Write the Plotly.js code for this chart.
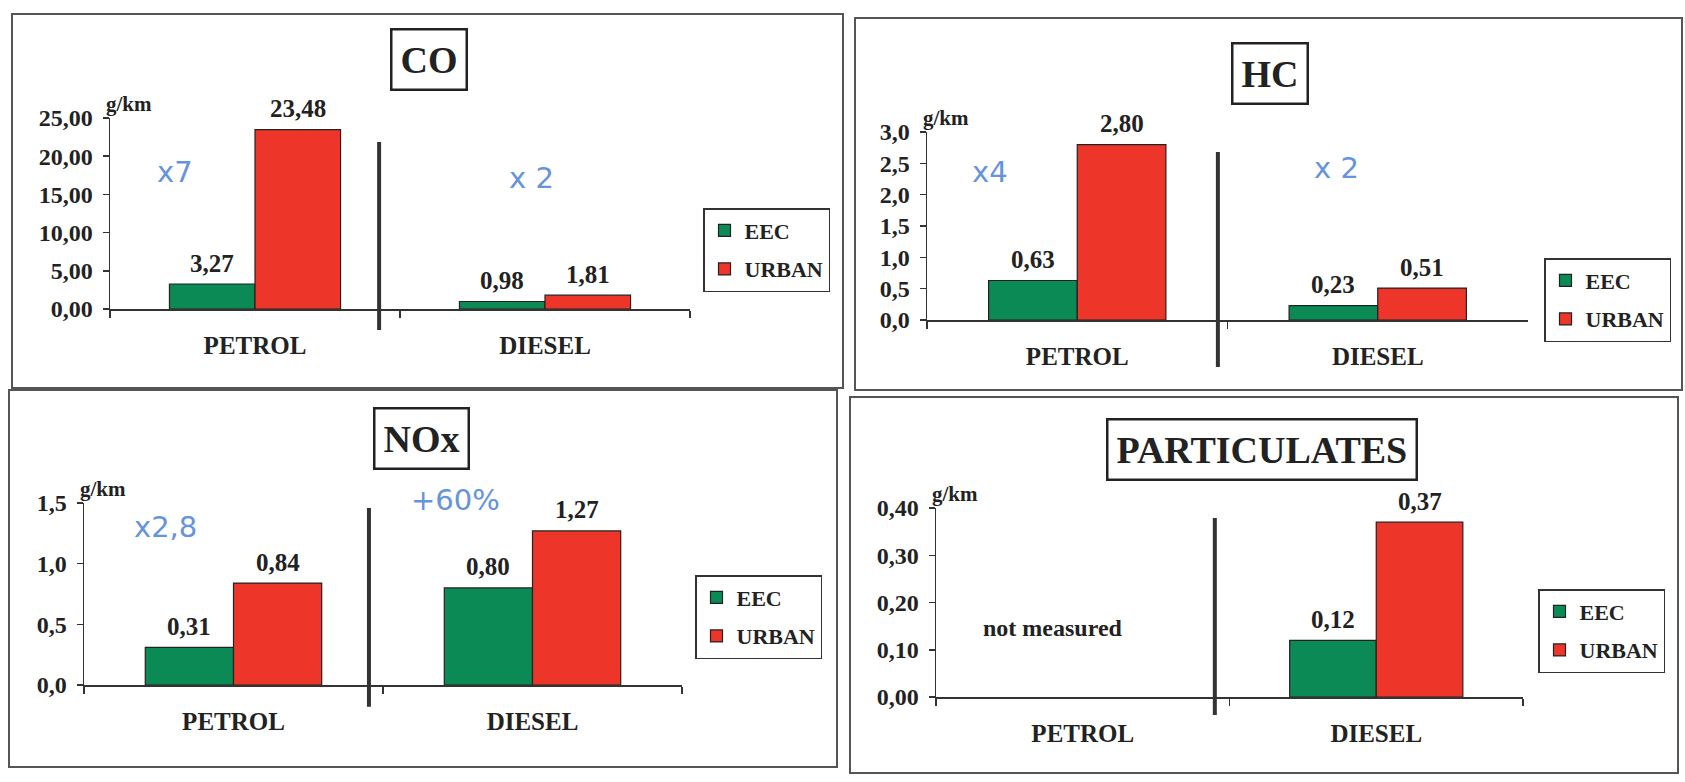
<!DOCTYPE html>
<html>
<head>
<meta charset="utf-8">
<script src="https://cdn.plot.ly/plotly-3.0.1.min.js"></script>
<style>html,body{margin:0;padding:0;background:#fff;}#chart{width:1685px;height:782px;}</style>
</head>
<body>
<div id="chart"></div>
<script>
// ---- data ----
const categories = ['PETROL', 'DIESEL'];
const seriesNames = ['EEC', 'URBAN'];
const titles = ['CO', 'HC', 'NOx', 'PARTICULATES'];
const coEEC = [3.27, 0.98];
const coURBAN = [23.48, 1.81];
const hcEEC = [0.63, 0.23];
const hcURBAN = [2.80, 0.51];
const noxEEC = [0.31, 0.80];
const noxURBAN = [0.84, 1.27];
const pmEEC = [null, 0.12];
const pmURBAN = [null, 0.37];
const unitLabel = 'g/km';
const notMeasured = 'not measured';
const handNotes = [['x7', 'x 2'], ['x4', 'x 2'], ['x2,8', '+60%'], []];

// ---- layout config (pixel positions of the page) ----
const W = 1685, H = 782;
const px = x => x / W, py = y => 1 - y / H;
const SERIF = 'Liberation Serif, Times New Roman, serif';
const GREEN = '#0c8a55', RED = '#ee3529';

const panels = [
  {eec: coEEC, urban: coURBAN, ax: [110, 690], ay: [309, 118], range: [0, 25], dtick: 5, fmt: '.2f',
   frame: [12, 14, 843, 388], title: [429, 60], legend: [703, 208], div: [0.428, -0.11, 0.874],
   notes: [[175, 172], [531, 178]]},
  {eec: hcEEC, urban: hcURBAN, ax: [927, 1528], ay: [320, 132], range: [0, 3], dtick: 0.5, fmt: '.1f',
   frame: [855, 18, 1682, 390], title: [1270, 73], legend: [1544, 258], div: [0.468, -0.25, 0.894],
   notes: [[990, 172], [1336, 168]]},
  {eec: noxEEC, urban: noxURBAN, ax: [84, 682], ay: [685, 503], range: [0, 1.5], dtick: 0.5, fmt: '.1f',
   frame: [9, 390, 837, 767], title: [421, 438], legend: [695, 575], div: [0.453, -0.12, 0.973],
   notes: [[165, 527], [455, 500]]},
  {eec: pmEEC, urban: pmURBAN, ax: [936, 1523], ay: [697, 508], range: [0, 0.4], dtick: 0.1, fmt: '.2f',
   frame: [850, 397, 1678, 773], title: [1262, 449], legend: [1538, 589], div: [0.45, -0.095, 0.947],
   notes: []}
];

const traces = [];
const annotations = [];
const shapes = [];
const layout = {
  width: W, height: H,
  margin: {l: 0, r: 0, t: 0, b: 0},
  paper_bgcolor: '#fff', plot_bgcolor: 'rgba(0,0,0,0)',
  separators: ',.',
  barmode: 'group', bargap: 0.41, bargroupgap: 0,
  font: {family: SERIF, color: '#222'},
  showlegend: true
};

const BAR_W = (1 - 0.41) / 2;

panels.forEach((p, k) => {
  const n = k === 0 ? '' : String(k + 1);
  const xa = 'x' + n, ya = 'y' + n;
  const legName = 'legend' + n;
  const vals = [p.eec, p.urban];
  const cols = [GREEN, RED];
  vals.forEach((v, s) => {
    traces.push({
      type: 'bar', x: categories, y: v, name: seriesNames[s],
      xaxis: xa, yaxis: ya, legend: legName, legendgroup: 'g' + k + s,
      marker: {color: cols[s], line: {color: '#222', width: 1.2}},
      hoverinfo: 'skip', cliponaxis: false
    });
    v.forEach((val, i) => {
      if (val === null) return;
      annotations.push({
        xref: xa, yref: ya, x: i + (s === 0 ? -1 : 1) * BAR_W / 2, y: val,
        text: val.toFixed(2).replace('.', ','), showarrow: false,
        yanchor: 'middle', yshift: 21,
        font: {family: SERIF, size: 25, weight: 'bold', color: '#222'}
      });
    });
  });
  layout['xaxis' + n] = {
    domain: [px(p.ax[0]), px(p.ax[1])], anchor: ya,
    type: 'category', range: [-0.5, 1.5], fixedrange: true,
    showline: true, linecolor: '#333', linewidth: 1.5,
    ticks: 'outside', tickson: 'boundaries', ticklen: 7, tickwidth: 1.5, tickcolor: '#333',
    ticklabelstandoff: 13,
    tickfont: {family: SERIF, size: 25, weight: 'bold', color: '#222'},
    showgrid: false, zeroline: false
  };
  layout['yaxis' + n] = {
    domain: [py(p.ay[0]), py(p.ay[1])], anchor: xa,
    range: p.range, dtick: p.dtick, tick0: 0, tickformat: p.fmt, fixedrange: true,
    showline: true, linecolor: '#333', linewidth: 1.5,
    ticks: 'outside', ticklen: 6, tickwidth: 1.5, tickcolor: '#333',
    ticklabelstandoff: 5,
    tickfont: {family: SERIF, size: 24, weight: 'bold', color: '#222'},
    showgrid: false, zeroline: false
  };
  layout[legName] = {
    x: px(p.legend[0]), y: py(p.legend[1]), xanchor: 'left', yanchor: 'top',
    xref: 'paper', yref: 'paper',
    bgcolor: '#fff', bordercolor: '#333', borderwidth: 1.5,
    font: {family: SERIF, size: 22, weight: 'bold', color: '#222'},
    traceorder: 'grouped', tracegroupgap: 7, itemwidth: 30
  };
  // frame
  shapes.push({type: 'rect', xref: 'paper', yref: 'paper',
    x0: px(p.frame[0]), x1: px(p.frame[2]), y0: py(p.frame[3]), y1: py(p.frame[1]),
    line: {color: '#555', width: 2}, layer: 'below'});
  // divider
  shapes.push({type: 'line', xref: xa, yref: ya + ' domain',
    x0: p.div[0], x1: p.div[0], y0: p.div[1], y1: p.div[2],
    line: {color: '#333', width: 4}});
  // boxed title
  annotations.push({xref: 'paper', yref: 'paper', x: px(p.title[0]), y: py(p.title[1]),
    text: titles[k], showarrow: false, xanchor: 'center', yanchor: 'middle',
    bordercolor: '#222', borderwidth: 2.5, borderpad: 8, bgcolor: '#fff',
    font: {family: SERIF, size: 38, weight: 'bold', color: '#222'}});
  // unit label
  annotations.push({xref: xa + ' domain', yref: ya + ' domain', x: 0, y: 1,
    text: unitLabel, showarrow: false, xanchor: 'left', yanchor: 'middle',
    xshift: -6, yshift: 14,
    font: {family: SERIF, size: 21, weight: 'bold', color: '#222'}});
  // handwritten notes
  handNotes[k].forEach((t, j) => {
    annotations.push({xref: 'paper', yref: 'paper', x: px(p.notes[j][0]), y: py(p.notes[j][1]),
      text: t, showarrow: false, xanchor: 'center', yanchor: 'middle',
      font: {family: 'DejaVu Sans', size: 29, color: '#6593dc'}});
  });
});

// "not measured" label in the particulates panel
annotations.push({xref: 'x4', yref: 'y4', x: -0.1, y: 0.146, text: notMeasured, showarrow: false,
  xanchor: 'center', yanchor: 'middle',
  font: {family: SERIF, size: 24, weight: 'bold', color: '#222'}});

layout.annotations = annotations;
layout.shapes = shapes;

Plotly.newPlot('chart', traces, layout, {displayModeBar: false, staticPlot: true});
</script>
</body>
</html>
